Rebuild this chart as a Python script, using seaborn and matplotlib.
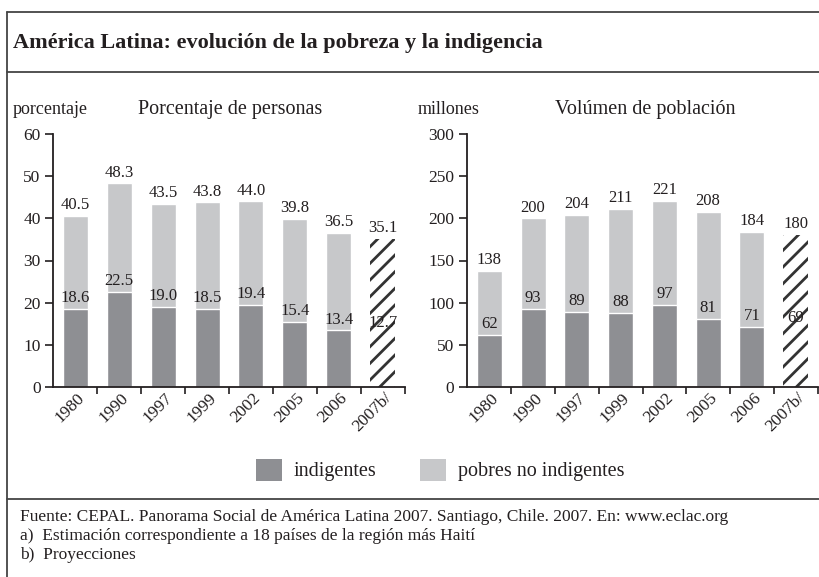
import numpy as np
import matplotlib
matplotlib.use("Agg")
import matplotlib.pyplot as plt
import matplotlib.transforms as mtransforms
from matplotlib.patches import Patch
from matplotlib.lines import Line2D
import seaborn as sns

# ── Data ──────────────────────────────────────────────────────
years = ["1980", "1990", "1997", "1999", "2002", "2005", "2006", "2007b/"]
pct_total = [40.5, 48.3, 43.5, 43.8, 44.0, 39.8, 36.5, 35.1]
pct_indig = [18.6, 22.5, 19.0, 18.5, 19.4, 15.4, 13.4, 12.7]
mill_total = [138, 200, 204, 211, 221, 208, 184, 180]
mill_indig = [62, 93, 89, 88, 97, 81, 71, 69]

DARK = "#8e8f93"
LIGHT = "#c7c8ca"
INK = "#231f20"
FRAME = "#444444"

sns.set_style("ticks")
plt.rcParams["font.family"] = ["Liberation Serif", "DejaVu Serif"]
plt.rcParams["hatch.linewidth"] = 2.0
plt.rcParams["text.color"] = INK

fig = plt.figure(figsize=(8.19, 5.77), dpi=100)
W, H = 819, 577


def fx(px):
    return px / W


def fy(py):
    return (H - py) / H


def draw_panel(ax, totals, indig, ymax, ystep, fmt):
    sns.barplot(x=years, y=totals, order=years, color=LIGHT, width=0.57,
                saturation=1, ax=ax)
    sns.barplot(x=years[:-1], y=indig[:-1], order=years, color=DARK, width=0.57,
                saturation=1, ax=ax)
    # projected year: hatched bar
    proj = ax.patches[len(years) - 1]
    proj.set_facecolor("white")
    proj.set_edgecolor("#333333")
    proj.set_linewidth(0)
    proj.set_hatch("//")

    for i, (t, d) in enumerate(zip(totals, indig)):
        ax.annotate(fmt.format(t), (i, t), xytext=(0, 2), textcoords="offset points",
                    ha="center", va="bottom", fontsize=12, color=INK)
        ax.annotate(fmt.format(d), (i, d), xytext=(0, 2), textcoords="offset points",
                    ha="center", va="bottom", fontsize=12, color=INK)

    ax.set_xlim(-0.51, 7.51)
    ax.set_ylim(0, ymax)
    ax.set_yticks(np.arange(0, ymax + 1, ystep))
    ax.set_xticks(range(len(years)))
    ax.set_xticklabels(years, rotation=45, ha="right", va="top",
                       rotation_mode="anchor", fontsize=12.5, color=INK)
    ax.set_xticks(np.arange(0.5, len(years)), minor=True)
    ax.tick_params(axis="x", which="major", length=0, pad=2)
    ax.tick_params(axis="x", which="minor", length=5, width=1.2, color=INK)
    ax.tick_params(axis="y", length=6, width=1.2, color=INK, labelsize=12.5,
                   labelcolor=INK, pad=3)
    offset = mtransforms.ScaledTranslation(1 / 100, 0, fig.dpi_scale_trans)
    for lab in ax.get_xticklabels():
        lab.set_transform(lab.get_transform() + offset)
    ax.set_xlabel("")
    ax.set_ylabel("")
    sns.despine(ax=ax)
    for s in ("left", "bottom"):
        ax.spines[s].set_linewidth(1.3)
        ax.spines[s].set_color(INK)
    ax.patch.set_alpha(0)


ax1 = fig.add_axes([fx(53), fy(387), fx(405 - 53), (387 - 134) / H])
ax2 = fig.add_axes([fx(467), fy(387), fx(818 - 467), (387 - 134) / H])
draw_panel(ax1, pct_total, pct_indig, 60, 10, "{:.1f}")
draw_panel(ax2, mill_total, mill_indig, 300, 50, "{:d}")

# ── Frame lines ───────────────────────────────────────────────
for y in (12, 72, 499):
    fig.add_artist(Line2D([fx(7), 1], [fy(y), fy(y)], color=FRAME, lw=1.3,
                          transform=fig.transFigure))
fig.add_artist(Line2D([fx(7), fx(7)], [fy(12), 0], color=FRAME, lw=1.3,
                      transform=fig.transFigure))

# ── Texts ─────────────────────────────────────────────────────
fig.text(fx(13), fy(43), "América Latina: evolución de la pobreza y la indigencia",
         fontsize=16, fontweight="bold", va="center", ha="left")
fig.text(fx(13), fy(110), "porcentaje", fontsize=13, va="center", ha="left")
fig.text(fx(138), fy(110), "Porcentaje de personas", fontsize=14.5, va="center", ha="left")
fig.text(fx(418), fy(110), "millones", fontsize=13, va="center", ha="left")
fig.text(fx(555), fy(110), "Volúmen de población", fontsize=14.5, va="center", ha="left")

handles = [Patch(facecolor=DARK, edgecolor="none", label="indigentes"),
           Patch(facecolor=LIGHT, edgecolor="none", label="pobres no indigentes")]
fig.legend(handles=handles, loc="center", bbox_to_anchor=(fx(440), fy(470)), ncol=2,
           frameon=False, fontsize=14.5, handlelength=1.3, handleheight=1.3,
           handletextpad=0.55, columnspacing=2.2)

notes = ["Fuente: CEPAL. Panorama Social de América Latina 2007. Santiago, Chile. 2007. En: www.eclac.org",
         "a)  Estimación correspondiente a 18 países de la región más Haití",
         "b)  Proyecciones"]
for k, line in enumerate(notes):
    fig.text(fx(20), fy(517 + 19 * k), line, fontsize=12.5, va="center", ha="left")

fig.savefig("out.png", dpi=100)
